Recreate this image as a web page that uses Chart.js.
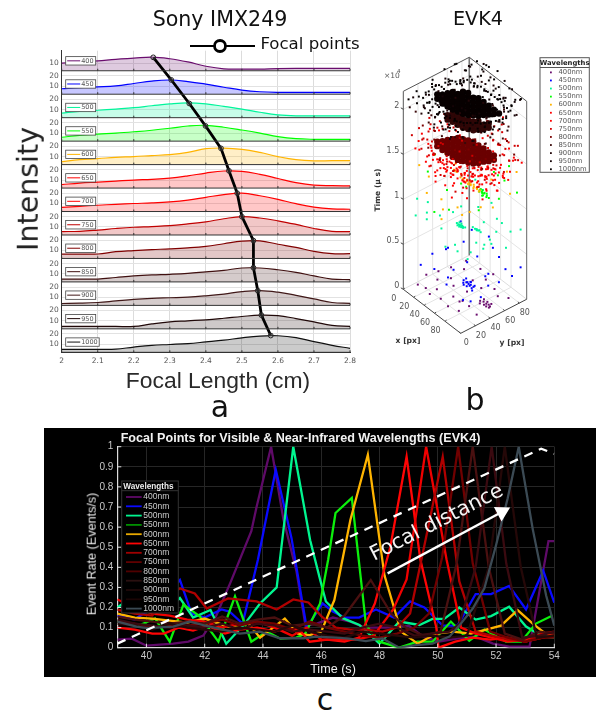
<!DOCTYPE html>
<html>
<head>
<meta charset="utf-8">
<script src="https://cdn.jsdelivr.net/npm/chart.js@4"></script>
<style>
  body { margin: 0; background: #fff; }
  #page { position: relative; width: 596px; height: 713px; overflow: hidden; }
  canvas { position: absolute; }
  #panelA { left: 40px; top: 30px; }
  #panelB { left: 370px; top: 40px; }
  #panelC { left: 44px; top: 428px; background: #000; }
  .lbl { position: absolute; white-space: nowrap; transform: translate(-50%, -50%); font-family: "DejaVu Sans"; line-height: 1; color: #111; }
  .cText { font-family: "Liberation Sans"; color: #eee; font-size: 12.6px; }
</style>
</head>
<body>
<div id="page">
  <canvas id="panelA" width="320" height="340"></canvas>
  <canvas id="panelB" width="226" height="330"></canvas>
  <canvas id="panelC" width="552" height="249"></canvas>
  <div class="lbl" style="left:220px;top:19px;font-size:20.6px">Sony IMX249</div>
  <div class="lbl" style="left:478px;top:19px;font-size:19.2px">EVK4</div>
  <div class="lbl" style="left:310px;top:44px;font-size:16.6px">Focal points</div>
  <div class="lbl" style="left:29px;top:189px;font-size:28.5px;transform:translate(-50%,-50%) rotate(-90deg);color:#222">Intensity</div>
  <div class="lbl" style="left:218px;top:380px;font-size:22.9px;font-family:'Liberation Sans';color:#2a2a2a">Focal Length (cm)</div>
  <div class="lbl" style="left:220px;top:407px;font-size:30px">a</div>
  <div class="lbl" style="left:475px;top:400px;font-size:30px">b</div>
  <div class="lbl" style="left:325px;top:700px;font-size:30px">c</div>
  <div class="lbl" style="left:300.5px;top:437.5px;font-size:12.6px;font-weight:bold;font-family:'Liberation Sans';color:#f2f2f2">Focal Points for Visible &amp; Near-Infrared Wavelengths (EVK4)</div>
  <div class="lbl cText" style="left:91.7px;top:554px;transform:translate(-50%,-50%) rotate(-90deg)">Event Rate (Events/s)</div>
  <div class="lbl cText" style="left:333px;top:669px">Time (s)</div>
</div>
<script>
const wavelengths = [400, 450, 500, 550, 600, 650, 700, 750, 800, 850, 900, 950, 1000];

// panel a: intensity against focal length
const focalLengths = [2, 2.05, 2.1, 2.15, 2.2, 2.25, 2.3, 2.35, 2.4, 2.45, 2.5, 2.55, 2.6, 2.65, 2.7, 2.75, 2.8];
const a400 = [10, 11, 12, 13.5, 14.5, 15.5, 14, 11, 7, 4.6, 4.3, 4.3, 4.8, 5, 5, 5, 5];
const a450 = [7.5, 8.7, 9.4, 10.3, 12.6, 15, 16, 14.5, 12, 9, 6.2, 4.6, 4, 4, 4, 4, 4];
const a500 = [6.6, 8.4, 9.4, 10.6, 11.9, 13.8, 15.6, 16.6, 15.6, 13.2, 10.6, 7.5, 5, 4, 4, 4, 4];
const a550 = [6, 7.8, 9, 10, 11.3, 12.8, 14.7, 16.9, 17.6, 15.7, 13, 10, 6.6, 4.6, 4, 4, 4];
const a600 = [5, 7, 8, 9.3, 10, 11, 11.9, 14, 17.7, 18.3, 17, 14, 10, 7, 5.8, 6, 6];
const a650 = [5.6, 7, 8, 9, 10, 10.7, 11.8, 14, 16.8, 18.8, 18.5, 15.5, 11.5, 7.5, 5, 4.5, 4.3];
const a700 = [6.2, 7.3, 8.3, 9.2, 10, 10.6, 11.6, 13.3, 16, 18.7, 20, 17.5, 14, 9.8, 6.5, 4.8, 4.4];
const a750 = [5.5, 5.8, 7, 8.5, 9.7, 10.4, 11.3, 13, 15, 18, 20, 18.7, 16, 12.5, 8.5, 5.8, 5.5];
const a800 = [6.5, 6.5, 6.5, 8.8, 9.9, 10.8, 11.5, 12.5, 14, 16.5, 19, 19.3, 16, 13, 9, 6.8, 6.8];
const a850 = [5, 5, 5, 6.5, 8, 9, 9.6, 10.5, 12, 13.5, 15.7, 15.7, 14, 11.5, 8, 5, 4.5];
const a900 = [4, 4.3, 5, 6.5, 8, 9, 9.6, 10.2, 11.5, 13.2, 15.5, 16.5, 15, 12, 8.5, 5, 4.2];
const a950 = [4.5, 4.5, 4.5, 4.5, 4.5, 7, 9, 10, 11, 12.5, 14.2, 15.5, 15, 12.2, 9, 5.5, 4.5];
const a1000 = [5, 5, 5, 5.2, 7.3, 9, 9.8, 10.7, 12.3, 14, 16.3, 18, 18.3, 16.5, 12.5, 9, 6];
const aRows = [a400, a450, a500, a550, a600, a650, a700, a750, a800, a850, a900, a950, a1000];
const aColors = ["#6a0d6e", "#0000ff", "#00f59b", "#00ff00", "#ffb400", "#ff0000", "#ff0000", "#c00000", "#800000", "#401010", "#401818", "#200808", "#101010"];
const focalX = [2.254, 2.304, 2.354, 2.399, 2.442, 2.464, 2.487, 2.5, 2.532, 2.532, 2.544, 2.554, 2.58];
const focalI = [15.3, 16.1, 16, 17, 18, 19, 20, 20, 19.5, 16, 16.5, 15.5, 18.5];
const aXTicks = [2, 2.1, 2.2, 2.3, 2.4, 2.5, 2.6, 2.7, 2.8];
const aYTicks = [10, 20];

// panel c: event rate traces, every wavelength sampled at its own times
const t400 = [39, 39.5, 40, 40.46, 40.92, 41.44, 41.95, 42.4, 42.9, 43.6, 43.78, 44.28, 44.7, 45.15, 45.46, 45.85, 46.4, 47, 47.5, 48.2, 49, 49.5, 50.05, 50.7, 51.3, 51.9, 52.45, 53.15, 53.8, 54];
const v400 = [0.04, 0.045, 0.01, 0.015, 0.02, 0.03, 0.06, 0.16, 0.33, 0.58, 0.7, 1, 0.64, 0.38, 0.11, 0.12, 0.15, 0.13, 0.1, 0.1, 0.11, 0.055, 0.03, 0.047, 0.055, 0.02, 0.005, 0.005, 0.53, 0.53];
const t450 = [39, 39.6, 40.2, 40.8, 41.15, 41.55, 42, 42.58, 42.85, 43.3, 43.6, 43.83, 44.44, 44.98, 45.5, 46.05, 46.4, 46.8, 47.3, 47.88, 48.5, 49.05, 49.54, 50.17, 50.68, 51.3, 51.83, 52.45, 53.03, 53.62, 54];
const v450 = [0.16, 0.14, 0.2, 0.28, 0.337, 0.17, 0.15, 0.19, 0.18, 0.12, 0.3, 0.44, 0.885, 0.545, 0.1, 0.22, 0.18, 0.15, 0.15, 0.19, 0.15, 0.23, 0.2, 0.11, 0.11, 0.267, 0.267, 0.307, 0.19, 0.383, 0.224];
const t500 = [39, 39.6, 40.2, 40.8, 41.15, 41.6, 42.2, 42.74, 43.38, 43.9, 44.47, 45.04, 45.62, 45.96, 46.16, 46.74, 47.31, 48, 48.68, 49.37, 49.82, 50.22, 50.74, 51.3, 51.83, 52.45, 53.03, 53.6, 54];
const v500 = [0.2, 0.26, 0.17, 0.2, 0.247, 0.15, 0.188, 0.02, 0.12, 0.22, 0.3, 1, 0.535, 0.34, 0.23, 0.147, 0.113, 0.02, 0.13, 0.113, 0.143, 0.143, 0.2, 0.14, 0.157, 0.204, 0.105, 0.055, 0.05];
const t550 = [39, 39.78, 40.3, 40.8, 41.27, 41.84, 42.47, 43.04, 43.6, 44.13, 44.6, 45.15, 45.45, 45.96, 46.24, 46.49, 47.05, 47.54, 48, 48.68, 49.3, 49.82, 50.45, 51.08, 51.6, 52.34, 52.86, 53.37, 53.94];
const v550 = [0.13, 0.113, 0.145, 0.03, 0.215, 0.155, 0.03, 0.255, 0.03, 0.08, 0.045, 0.05, 0.07, 0.22, 0.44, 0.67, 0.745, 0.11, 0.03, 0, 0.03, 0.03, 0.13, 0.035, 0.09, 0.03, 0.03, 0.12, 0.16];
const t600 = [39, 39.6, 40.2, 40.8, 41.4, 42, 42.8, 43.5, 43.9, 44.75, 45.2, 45.6, 46, 46.45, 47, 47.6, 48.17, 48.74, 49.31, 49.94, 50.5, 51.14, 51.66, 52.17, 52.74, 53.26, 53.7, 54];
const v600 = [0.17, 0.15, 0.145, 0.135, 0.125, 0.145, 0.105, 0.12, 0.05, 0.145, 0.07, 0.063, 0.08, 0.237, 0.635, 0.96, 0.36, 0.08, 0.02, 0.07, 0.08, 0.07, 0.09, 0.11, 0.187, 0.12, 0.07, 0.06];
const t650 = [39, 39.6, 40.2, 40.6, 41.1, 41.6, 42.1, 42.7, 43.2, 43.8, 44.4, 44.8, 45.3, 45.6, 46.2, 46.8, 47.3, 47.84, 48.37, 48.93, 49.4, 49.95, 50.03, 50.6, 51.2, 51.8, 52.4, 53, 53.6, 54];
const v650 = [0.1, 0.09, 0.07, 0.07, 0.1, 0.085, 0.11, 0.07, 0.09, 0.1, 0.08, 0.1, 0.08, 0.03, 0.04, 0.03, 0.05, 0.22, 0.5, 0.95, 0.44, 0.1, 0, 0.03, 0.05, 0.04, 0.05, 0.03, 0.05, 0.06];
const t700 = [39, 39.6, 40.2, 40.8, 41.4, 42, 42.6, 43.2, 43.8, 44.4, 45, 45.5, 46, 46.6, 47.2, 47.8, 48.47, 48.93, 49.6, 50.3, 50.8, 51.3, 51.85, 52.4, 53, 53.6, 54];
const v700 = [0.24, 0.2, 0.17, 0.16, 0.14, 0.13, 0.1, 0.12, 0.13, 0.1, 0.06, 0.1, 0.04, 0.04, 0.04, 0.06, 0.19, 0.34, 1, 0.44, 0.1, 0.07, 0.05, 0.03, 0.04, 0.07, 0.07];
const t750 = [39, 39.6, 40.2, 40.8, 41.15, 41.66, 42.07, 42.8, 43.78, 44.47, 45.04, 45.56, 46.02, 46.5, 47, 47.55, 48.1, 48.6, 49.05, 49.6, 50.17, 50.74, 51.3, 51.85, 52.45, 53.03, 53.6, 54];
const v750 = [0.19, 0.17, 0.16, 0.26, 0.295, 0.27, 0.195, 0.245, 0.23, 0.19, 0.24, 0.225, 0.155, 0.1, 0.09, 0.09, 0.08, 0.1, 0.17, 0.55, 0.95, 0.33, 0.08, 0.06, 0.04, 0.03, 0.07, 0.08];
const t800 = [39, 39.6, 40.2, 40.8, 41.4, 42, 42.6, 43.2, 43.8, 44.4, 45, 45.6, 46.2, 46.8, 47.4, 48, 48.6, 49.2, 49.7, 50.15, 50.7, 51.2, 51.8, 52.4, 53, 53.6, 54];
const v800 = [0.13, 0.12, 0.1, 0.11, 0.11, 0.12, 0.14, 0.11, 0.13, 0.12, 0.09, 0.13, 0.1, 0.08, 0.06, 0.05, 0.07, 0.1, 0.17, 0.45, 1, 0.42, 0.08, 0.05, 0.03, 0.05, 0.05];
const t850 = [39, 39.6, 40.2, 40.8, 41.4, 42, 42.6, 43.2, 43.8, 44.4, 45, 45.6, 46.2, 46.8, 47.7, 48.4, 48.9, 49.5, 50.1, 50.65, 51.2, 51.75, 52.3, 52.9, 53.5, 54];
const v850 = [0.155, 0.14, 0.13, 0.12, 0.13, 0.12, 0.155, 0.12, 0.14, 0.15, 0.11, 0.12, 0.1, 0.16, 0.337, 0.17, 0.1, 0.06, 0.08, 0.42, 1, 0.4, 0.07, 0.04, 0.08, 0.07];
const t900 = [39, 39.6, 40.2, 40.8, 41.4, 42, 42.6, 43.2, 43.8, 44.4, 45, 45.6, 46.2, 46.8, 47.4, 48, 48.6, 49.2, 49.8, 50.4, 50.75, 51.3, 51.85, 52.35, 52.9, 53.5, 54];
const v900 = [0.14, 0.12, 0.11, 0.1, 0.11, 0.1, 0.12, 0.09, 0.12, 0.11, 0.08, 0.09, 0.08, 0.07, 0.1, 0.12, 0.1, 0.06, 0.07, 0.08, 0.12, 0.4, 1, 0.42, 0.05, 0.06, 0.08];
const t950 = [39, 39.6, 40.2, 40.8, 41.4, 42, 42.6, 43.2, 43.8, 44.4, 45, 45.6, 46.2, 46.8, 47.4, 48, 48.6, 49.2, 49.8, 50.4, 51, 51.75, 52.3, 52.85, 53.4, 54];
const v950 = [0.12, 0.11, 0.09, 0.12, 0.1, 0.09, 0.08, 0.1, 0.09, 0.08, 0.11, 0.08, 0.06, 0.05, 0.08, 0.07, 0.06, 0.05, 0.06, 0.05, 0.06, 0.4, 1, 0.4, 0.05, 0.06];
const t1000 = [39, 39.66, 40.02, 40.92, 41.49, 42.06, 42.63, 43.2, 43.89, 44.58, 45.39, 45.82, 46.5, 46.96, 47.53, 48.1, 48.68, 49.25, 49.82, 50.4, 50.74, 51.2, 51.6, 52, 52.4, 52.78, 53.26, 53.72, 54];
const v1000 = [0.13, 0.105, 0.097, 0.105, 0.13, 0.108, 0.09, 0.07, 0.08, 0.047, 0.047, 0.055, 0.05, 0.045, 0.033, 0.046, 0, 0.013, 0.02, 0.055, 0.11, 0.195, 0.295, 0.51, 0.743, 1, 0.59, 0.26, 0.11];
const cTimes = [t400, t450, t500, t550, t600, t650, t700, t750, t800, t850, t900, t950, t1000];
const cRates = [v400, v450, v500, v550, v600, v650, v700, v750, v800, v850, v900, v950, v1000];
const cColors = ["#5f0a68", "#0a0aff", "#00f58f", "#0cf00c", "#ffb400", "#ff0505", "#f00000", "#b00000", "#700000", "#4a1010", "#3a0a10", "#250808", "#3b4a54"];
const cLegendColors = ["#5f0a68", "#0a0aff", "#00f58f", "#008f00", "#e8a800", "#ff0505", "#a00000", "#600000", "#500000", "#2a1010", "#200a0a", "#1a0505", "#3b4a54"];
const cXTicks = [40, 42, 44, 46, 48, 50, 52, 54];
const cYTicks = [0, 0.1, 0.2, 0.3, 0.4, 0.5, 0.6, 0.7, 0.8, 0.9, 1];
const guideTimes = [39, 53.55, 54];
const guideRates = [0.02, 0.99, 0.965];
const arrowTimes = [48.28, 52.2];
const arrowRates = [0.37, 0.675];

// panel b: events as x [px], y [px], time [x10^4 us] triples
const b400 = [96,45,.05, 92,44,.06, 98,47,.04, 100,42,.05, 94,48,.05, 90,46,.07, 102,46,.04, 97,41,.06, 88,42,.06, 104,43,.05, 93,38,.07, 99,50,.04, 12,8,.05, 25,10,.06, 33,20,.04, 40,5,.08, 52,12,.05, 60,24,.06, 72,8,.07, 85,14,.05, 70,30,.03, 45,35,.07, 20,30,.05, 30,42,.06, 12,55,.05, 28,62,.07, 48,60,.04, 60,70,.06, 72,55,.08, 80,68,.05, 95,62,.06, 105,70,.05, 38,78,.05, 55,84,.04, 18,72,.08, 5,25,.06, 8,40,.05, 90,25,.08, 105,25,.05, 78,20,.1, 62,42,.05];
const b450 = [65,42,.15, 62,41,.16, 68,43,.15, 60,44,.14, 70,40,.16, 64,46,.15, 67,38,.15, 58,40,.17, 72,44,.14, 63,36,.18, 70,47,.13, 56,45,.16, 74,40,.15, 66,44,.17, 61,38,.14, 10,30,.3, 20,45,.35, 30,60,.4, 35,15,.3, 48,25,.22, 55,18,.2, 82,35,.18, 90,52,.2, 100,60,.25, 105,75,.28, 92,75,.3, 75,78,.35, 60,80,.38, 45,85,.42, 25,75,.45, 10,70,.5, 50,65,.3, 80,55,.25, 85,20,.15, 38,40,.2, 44,55,.25, 72,65,.2, 95,38,.15, 100,20,.2, 15,10,.28, 30,35,.42, 108,85,.35];
const b500 = [43,46,.7, 41,45,.71, 45,47,.7, 44,44,.72, 42,48,.69, 46,45,.7, 40,47,.72, 44,49,.68, 47,47,.69, 39,44,.72, 45,43,.71, 48,46,.7, 41,49,.7, 43,42,.72, 47,50,.68, 63,55,.7, 65,56,.7, 61,54,.71, 66,53,.72, 60,57,.69, 64,58,.69, 68,57,.69, 58,53,.72, 12,5,.85, 20,15,.8, 30,8,.95, 8,25,.9, 5,12,.98, 18,35,.75, 35,25,.72, 30,45,.8, 25,60,.78, 45,70,.82, 60,78,.9, 75,82,.72, 95,80,.72, 108,85,.78, 100,70,.6, 85,60,.62, 78,55,.6, 90,45,.65, 72,40,.55, 80,30,.55, 60,30,.55, 50,20,.6, 48,35,.55, 55,60,.5, 68,70,.55, 40,80,.95, 25,80,1, 82,70,.85, 70,60,.8, 92,62,.78];
const b550 = [69,58,1.15, 72,59,1.14, 66,57,1.16, 74,56,1.14, 70,61,1.13, 64,60,1.15, 76,60,1.13, 68,55,1.16, 73,62,1.13, 62,56,1.17, 78,58,1.13, 71,57,1.15, 66,61,1.14, 75,54,1.15, 80,60,1.12, 60,59,1.16, 15,20,1.3, 8,35,1.4, 25,40,1.05, 30,60,1.4, 40,75,1.35, 55,85,1.2, 70,80,1.25, 90,75,1.3, 105,82,1.2, 100,60,1.2, 88,40,1.1, 50,25,1, 35,15,.95, 42,55,1.1, 85,85,1.4, 60,35,1.3];
const b600 = [55,52,1.2, 50,50,1.22, 60,53,1.19, 45,49,1.23, 65,54,1.18, 52,53,1.21, 58,50,1.21, 48,52,1.22, 62,51,1.19, 68,56,1.17, 42,47,1.24, 55,49,1.22, 57,55,1.19, 63,55,1.18, 47,47,1.24, 53,50,1.2, 70,53,1.18, 40,50,1.25, 36,46,1.28, 33,44,1.3, 38,42,1.32, 10,25,1.2, 5,15,1.35, 20,15,1.1, 28,30,1, 38,25,.95, 45,18,.9, 55,40,.9, 60,30,1.05, 70,40,1, 85,45,1.1, 95,55,1.1, 108,70,1.25, 100,85,1.4, 85,82,1.35, 65,80,1.4, 50,78,1.4, 30,70,1.35, 25,52,1.3, 15,45,1.4, 78,65,1.3];
const b650 = [30,30,1.42, 40,35,1.45, 50,30,1.38, 60,40,1.4, 70,45,1.38, 80,50,1.42, 45,50,1.45, 55,55,1.42, 65,60,1.4, 75,62,1.45, 35,45,1.48, 25,40,1.5, 90,60,1.42, 85,40,1.35, 72,30,1.4, 58,22,1.42, 40,20,1.45, 28,18,1.5, 15,25,1.55, 48,42,1.4, 62,50,1.42, 52,38,1.44, 68,38,1.36, 78,58,1.36, 42,28,1.4, 56,46,1.38, 64,34,1.36, 74,52,1.38, 38,38,1.42, 50,58,1.38, 82,68,1.42, 92,72,1.4, 100,58,1.3, 33,55,1.5, 46,65,1.5, 60,70,1.45, 36,30,1.38, 44,40,1.38, 52,46,1.34, 60,52,1.34, 68,58,1.34, 76,60,1.32, 84,66,1.32, 92,66,1.32, 46,34,1.34, 54,44,1.3, 62,46,1.3, 70,52,1.3, 78,52,1.3, 86,52,1.28, 40,42,1.42, 48,54,1.38, 58,60,1.34, 66,66,1.36, 30,36,1.44, 74,68,1.38, 88,74,1.35, 96,76,1.33];
const b700 = [8,12,1.65, 15,8,1.6, 25,12,1.55, 35,8,1.5, 45,12,1.48, 55,15,1.45, 70,18,1.42, 85,25,1.4, 95,35,1.42, 105,50,1.42, 108,70,1.5, 100,80,1.55, 85,85,1.6, 70,80,1.6, 55,82,1.65, 40,75,1.7, 25,65,1.7, 12,50,1.7, 5,30,1.7, 18,35,1.6, 30,48,1.6, 42,60,1.55, 58,68,1.55, 75,72,1.5, 90,70,1.5, 20,22,1.55, 32,25,1.5, 44,30,1.5, 60,30,1.48, 78,38,1.45, 90,48,1.45, 52,48,1.5, 66,55,1.5, 38,42,1.55, 80,58,1.48, 22,55,1.65, 10,6,1.6, 16,20,1.62, 20,30,1.55, 28,8,1.52, 34,28,1.48, 38,14,1.42, 46,24,1.42, 50,6,1.4, 54,34,1.42, 58,14,1.36, 62,22,1.34, 66,44,1.42, 70,34,1.36, 74,12,1.3, 78,24,1.32, 82,42,1.38, 86,34,1.34, 90,22,1.32, 94,56,1.4, 98,44,1.35, 102,66,1.42, 104,34,1.32, 40,50,1.55, 28,56,1.62, 48,74,1.6, 66,76,1.52, 82,78,1.55, 96,84,1.55, 106,88,1.52, 110,50,1.38, 36,16,1.36, 12,38,1.68, 6,18,1.7];
const b750 = [3,6,1.72, 12,16,1.68, 22,6,1.65, 32,16,1.6, 42,5,1.55, 52,20,1.55, 62,10,1.5, 75,25,1.5, 88,18,1.45, 100,40,1.5, 110,60,1.55, 104,72,1.6, 92,88,1.65, 78,76,1.65, 62,86,1.7, 48,72,1.72, 32,78,1.78, 18,60,1.75, 8,42,1.75, 28,32,1.62, 38,52,1.62, 50,40,1.6, 64,48,1.58, 76,50,1.55, 88,62,1.58, 70,66,1.62, 56,60,1.62, 44,26,1.58, 84,34,1.52, 96,55,1.55, 24,44,1.7, 36,66,1.68, 6,14,1.78, 12,26,1.8, 18,10,1.72, 22,36,1.75, 26,18,1.7, 30,58,1.82, 34,8,1.62, 38,22,1.72, 42,70,1.85, 46,14,1.6, 48,52,1.78, 52,82,1.85, 56,26,1.6, 60,6,1.52, 64,68,1.8, 68,18,1.55, 72,84,1.82, 76,36,1.62, 80,66,1.75, 84,10,1.42, 88,78,1.75, 92,28,1.5, 96,72,1.7, 100,52,1.62, 104,84,1.72, 108,44,1.48, 110,76,1.62, 14,44,1.85, 4,30,1.82, 24,70,1.88, 44,84,1.9, 66,90,1.85, 82,44,1.55, 56,36,1.8, 36,44,1.82];
const b800 = [5,20,1.78, 15,30,1.72, 25,22,1.7, 35,35,1.7, 45,45,1.72, 55,30,1.68, 65,42,1.68, 75,40,1.62, 85,52,1.62, 95,65,1.65, 105,78,1.65, 88,80,1.72, 72,60,1.7, 60,55,1.72, 48,62,1.78, 35,58,1.78, 22,48,1.78, 40,85,1.85, 55,75,1.82, 70,88,1.8, 85,70,1.72, 30,10,1.68, 50,12,1.62, 68,28,1.6, 92,42,1.58, 15,60,1.82];
const b850 = [5,10,1.98, 15,25,1.92, 28,12,1.95, 38,24,1.9, 50,15,1.88, 62,25,1.88, 75,30,1.85, 85,35,1.85, 95,45,1.87, 105,62,1.9, 98,75,1.95, 82,72,1.95, 68,65,1.95, 55,58,1.95, 42,50,1.98, 30,42,1.95, 18,45,2, 45,72,2.02, 60,80,2, 75,85,2, 28,68,2.05, 12,60,2.05, 90,58,1.9, 72,45,1.9, 58,38,1.92, 44,30,1.92];
const b900 = [3,3,2.05, 10,18,2.02, 22,6,2.05, 32,18,2, 44,8,1.98, 55,20,1.98, 68,15,1.95, 80,24,1.95, 92,30,1.95, 104,45,1.98, 110,65,2, 100,85,2.05, 85,78,2.05, 70,88,2.1, 55,70,2.05, 40,60,2.05, 25,52,2.05, 8,40,2.1, 15,70,2.15, 35,82,2.15, 50,88,2.15, 62,50,2.02, 76,60,2.02, 90,68,2, 48,42,2.02, 34,34,2.02];
const b950 = [0,10,2.12, 6,28,2.1, 18,12,2.1, 26,26,2.08, 38,14,2.05, 48,28,2.05, 60,10,2.02, 70,32,2.02, 84,20,2, 96,38,2.03, 108,55,2.05, 106,78,2.1, 92,88,2.15, 78,82,2.15, 64,72,2.12, 48,78,2.2, 36,70,2.15, 20,62,2.15, 5,52,2.18, 30,88,2.22, 12,82,2.22, 88,50,2.05, 72,52,2.08, 56,44,2.08, 40,38,2.08, 22,36,2.12, 10,35,2.2, 14,18,2.18, 20,48,2.2, 26,8,2.12, 30,38,2.28, 34,22,2.04, 38,52,2.25, 42,10,2, 44,70,2.3, 50,32,1.98, 52,60,2.3, 56,16,1.98, 58,78,2.32, 62,34,2.02, 66,66,2.25, 70,12,1.95, 74,74,2.28, 76,40,2.02, 82,30,2.02, 84,62,2.2, 88,78,2.22, 92,46,2.05, 96,70,2.18, 98,24,2, 104,50,2.08, 106,66,2.14, 18,76,2.28, 24,66,2.3, 8,58,2.25, 36,84,2.35, 72,88,2.3, 84,90,2.25, 100,90,2.2, 46,46,2.05, 64,52,2.02, 28,14,2.08];
const b1000 = [2,2,2.14, 8,22,2.16, 16,4,2.15, 24,16,2.15, 36,6,2.12, 46,20,2.12, 58,8,2.1, 66,22,2.1, 78,14,2.08, 90,26,2.1, 100,40,2.1, 110,58,2.12, 102,72,2.15, 96,86,2.2, 80,76,2.18, 66,84,2.22, 52,80,2.25, 42,66,2.2, 28,58,2.2, 14,50,2.22, 4,66,2.28, 20,86,2.3, 38,90,2.3, 60,60,2.18, 78,62,2.15, 92,56,2.12, 34,46,2.15, 48,52,2.16, 4,12,2.2, 12,28,2.25, 16,40,2.12, 22,24,2.25, 28,34,2.05, 32,10,2.2, 36,28,2.3, 40,48,2.32, 44,16,2.24, 46,58,2.36, 50,8,2.16, 54,26,2.3, 56,66,2.38, 60,18,2.22, 64,38,2.34, 68,76,2.35, 70,22,2.22, 74,44,2.32, 76,8,2.12, 80,34,2.28, 82,50,2.32, 86,12,2.1, 88,40,2.25, 90,82,2.32, 94,62,2.3, 98,32,2.2, 102,56,2.24, 108,72,2.25, 110,84,2.28, 104,28,2.12, 58,88,2.35, 44,82,2.38, 26,74,2.34, 10,64,2.32, 32,62,2.35, 2,36,2.22, 14,8,2.2, 6,50,2.3, 78,68,2.3, 50,72,2.4];
// extra events thickening the clouds around their dense middle
const bDarkHalo = [14,22,2.2, 18,24,2.12, 18,24,2.26, 22,26,2.08, 22,26,2.28, 26,28,2.05, 26,28,2.3, 30,26,2.02, 30,34,2.32, 34,30,2, 34,36,2.34, 38,30,1.99, 38,38,2.36, 42,32,1.98, 42,40,2.36, 46,36,1.97, 46,44,2.38, 50,36,1.96, 50,46,2.38, 54,38,1.96, 54,48,2.4, 58,40,1.96, 58,50,2.38, 62,42,1.97, 62,52,2.38, 66,44,1.98, 66,54,2.36, 70,48,1.98, 70,56,2.36, 74,48,2, 74,58,2.34, 78,50,2, 78,60,2.32, 82,52,2.02, 82,62,2.3, 86,56,2.02, 86,64,2.28, 90,56,2.05, 90,66,2.26, 94,60,2.06, 94,68,2.24, 98,62,2.08, 98,68,2.22, 102,64,2.1, 102,70,2.2, 106,66,2.12, 106,72,2.18, 20,36,2.22, 28,42,2.3, 36,46,2.28, 44,50,2.32, 52,56,2.36, 60,58,2.3, 68,62,2.28, 76,66,2.25, 84,72,2.26, 92,74,2.22, 100,78,2.18, 14,14,2.16, 22,14,2.14, 30,16,2.12, 38,18,2.06, 46,22,2.04, 54,22,2, 62,26,2, 70,30,1.98, 78,34,2, 86,40,2.02, 94,44,2, 102,50,2.04];
const bBrightHalo = [24,22,1.52, 28,24,1.48, 32,26,1.46, 36,28,1.44, 40,30,1.42, 44,32,1.42, 48,34,1.4, 52,36,1.4, 56,38,1.38, 60,40,1.38, 64,42,1.38, 68,44,1.38, 72,46,1.4, 76,48,1.4, 80,50,1.42, 84,52,1.42, 88,54,1.44, 92,56,1.46, 96,58,1.48, 100,60,1.5, 30,36,1.5, 38,40,1.46, 46,44,1.44, 54,48,1.42, 62,52,1.42, 70,56,1.42, 78,60,1.44, 86,64,1.46, 94,66,1.5, 28,18,1.56, 36,20,1.5, 44,22,1.46, 52,26,1.42, 60,30,1.38, 68,34,1.36, 76,38,1.38, 84,44,1.36, 92,48,1.4, 100,48,1.42, 108,60,1.48];
const bRedHalo = [14,20,1.66, 16,28,1.74, 18,22,1.6, 20,30,1.78, 22,30,1.58, 26,22,1.54, 30,38,1.8, 34,24,1.52, 38,40,1.82, 42,28,1.5, 46,44,1.84, 50,32,1.48, 54,48,1.84, 58,36,1.48, 62,52,1.84, 66,40,1.48, 70,56,1.84, 74,44,1.5, 78,60,1.82, 82,48,1.5, 86,62,1.8, 90,52,1.54, 94,66,1.76, 98,58,1.58, 102,66,1.68, 106,70,1.62, 24,48,1.82, 34,54,1.86, 44,60,1.88, 54,64,1.88, 64,70,1.88, 74,72,1.86, 84,76,1.82, 94,78,1.74, 8,26,1.7, 110,80,1.6];
// the densest parts of the clouds, too many events to tell apart
const bRedCore = [24,27,1.6, 24,27,1.65, 30,30,1.57, 30,30,1.62, 30,30,1.67, 36,33,1.55, 36,33,1.6, 36,33,1.65, 36,33,1.7, 42,36,1.52, 42,36,1.57, 42,36,1.62, 42,36,1.67, 42,36,1.72, 48,39,1.5, 48,39,1.55, 48,39,1.6, 48,39,1.65, 48,39,1.7, 48,39,1.75, 54,42,1.5, 54,42,1.55, 54,42,1.6, 54,42,1.65, 54,42,1.7, 54,42,1.75, 60,45,1.5, 60,45,1.55, 60,45,1.6, 60,45,1.65, 60,45,1.7, 60,45,1.75, 66,48,1.5, 66,48,1.55, 66,48,1.6, 66,48,1.65, 66,48,1.7, 66,48,1.75, 72,51,1.52, 72,51,1.57, 72,51,1.62, 72,51,1.67, 72,51,1.72, 78,54,1.55, 78,54,1.6, 78,54,1.65, 78,54,1.7, 84,57,1.57, 84,57,1.62, 84,57,1.67, 90,60,1.6, 90,60,1.65];
const bBrownCore = [36,33,1.93, 36,33,1.98, 42,36,1.92, 42,36,1.97, 42,36,2.02, 48,39,1.9, 48,39,1.95, 48,39,2, 54,42,1.88, 54,42,1.93, 54,42,1.98, 60,45,1.88, 60,45,1.93, 60,45,1.98, 66,48,1.88, 66,48,1.93, 66,48,1.98, 72,51,1.9, 72,51,1.95, 72,51,2, 78,54,1.92, 78,54,1.97, 84,57,1.95, 84,57,2];
const bBlackCore = [24,27,2.14, 24,27,2.19, 30,30,2.1, 30,30,2.15, 30,30,2.2, 36,33,2.08, 36,33,2.13, 36,33,2.18, 36,33,2.23, 42,36,2.06, 42,36,2.11, 42,36,2.16, 42,36,2.21, 42,36,2.26, 48,39,2.05, 48,39,2.1, 48,39,2.15, 48,39,2.2, 48,39,2.25, 54,42,2.04, 54,42,2.09, 54,42,2.14, 54,42,2.19, 54,42,2.24, 54,42,2.29, 60,45,2.04, 60,45,2.09, 60,45,2.14, 60,45,2.19, 60,45,2.24, 60,45,2.29, 66,48,2.05, 66,48,2.1, 66,48,2.15, 66,48,2.2, 66,48,2.25, 72,51,2.06, 72,51,2.11, 72,51,2.16, 72,51,2.21, 72,51,2.26, 78,54,2.08, 78,54,2.13, 78,54,2.18, 78,54,2.23, 84,57,2.1, 84,57,2.15, 84,57,2.2, 90,60,2.12, 90,60,2.17, 96,63,2.14];
const bClouds = [b400, b450, b500, b550, b600, b650, b700.concat(bBrightHalo), b750.concat(bRedHalo), b800, b850, b900, b950, b1000.concat(bDarkHalo)];
const bColors = ["#6a0d6e", "#0000ff", "#00f59b", "#00ff00", "#ffb400", "#ff0000", "#ff0000", "#d00000", "#7a0000", "#3a0808", "#220608", "#150306", "#050000"];
const bXTicks = [0, 20, 40, 60, 80];
const bYTicks = [0, 20, 40, 60, 80];
const bTTicks = [0, 0.5, 1, 1.5, 2];
const bXMax = 110, bYMax = 90, bTMax = 2.2;

const tickFont = "'DejaVu Sans'";

// ---- panel a ----
const rowWeights = wavelengths.map((w, i) => (i === 0 ? 20 : 23.4));
const rowRanges = wavelengths.map((w, i) => (i === 0 ? [2.8, 21.5] : [2.2, 25]));
const rowScales = {};
// a stack of axes fills from the bottom, so the last row goes in first
for (let i = wavelengths.length - 1; i >= 0; i--) {
    rowScales["r" + i] = {
        type: "linear",
        position: "left",
        stack: "rows",
        stackWeight: rowWeights[i],
        min: rowRanges[i][0],
        max: rowRanges[i][1],
        afterBuildTicks: (s) => { s.ticks = aYTicks.map((v) => ({ value: v })); },
        afterFit: (s) => { s.width = 21.7; },
        ticks: { color: "#555", font: { family: tickFont, size: 7.5 }, padding: 3 },
        grid: { color: "#e2e2e2", tickLength: 0 },
        border: { color: "#333" },
    };
}

// focal points sit on a hidden axis spanning all the rows
let rowTop = 0;
const focalY = focalI.map((v, i) => {
    const r = rowRanges[i];
    const y = rowTop + ((r[1] - v) / (r[1] - r[0])) * rowWeights[i];
    rowTop += rowWeights[i];
    return y;
});

const aDatasets = aRows.map((row, i) => ({
    label: wavelengths[i] + "",
    data: row.map((v, j) => ({ x: focalLengths[j], y: v })),
    yAxisID: "r" + i,
    borderColor: aColors[i],
    backgroundColor: aColors[i] + "38",
    borderWidth: 1.2,
    fill: "start",
    tension: 0.4,
    pointRadius: 0,
    order: 5,
}));
aDatasets.push({
    label: "Focal points",
    data: focalX.map((x, i) => ({ x: x, y: focalY[i] })),
    yAxisID: "focal",
    borderColor: "#000",
    borderWidth: 2.8,
    tension: 0,
    pointRadius: 2.4,
    pointBorderWidth: 1,
    pointBorderColor: "#222",
    pointBackgroundColor: "rgba(255,255,255,0.15)",
    clip: false,
    order: 1,
});

new Chart(document.getElementById("panelA"), {
    type: "line",
    data: { datasets: aDatasets },
    options: {
        responsive: false,
        animation: false,
        events: [],
        layout: { padding: { top: 20.7, right: 5.7, bottom: 0, left: 0 } },
        plugins: { legend: { display: false } },
        scales: Object.assign({
            x: {
                type: "linear",
                min: 2,
                max: 2.8,
                afterBuildTicks: (s) => { s.ticks = aXTicks.map((v) => ({ value: v })); },
                afterFit: (s) => { s.height = 17.7; },
                ticks: { color: "#555", font: { family: tickFont, size: 7.5 }, maxRotation: 0, padding: 4, callback: (v) => v + "" },
                grid: { color: "#dcdcdc", tickLength: 0 },
                border: { color: "#333" },
            },
            focal: { type: "linear", display: false, reverse: true, min: 0, max: rowTop },
        }, rowScales),
    },
    plugins: [{
        id: "rowDecor",
        afterDatasetsDraw(chart) {
            const ctx = chart.ctx;
            const xs = chart.scales.x;
            ctx.save();
            wavelengths.forEach((w, i) => {
                const ys = chart.scales["r" + i];
                ctx.strokeStyle = "#333";
                ctx.lineWidth = 1;
                ctx.beginPath();
                ctx.moveTo(xs.left, ys.bottom);
                ctx.lineTo(xs.right, ys.bottom);
                aXTicks.forEach((v) => {
                    const px = xs.getPixelForValue(v);
                    ctx.moveTo(px, ys.bottom);
                    ctx.lineTo(px, ys.bottom - 2);
                });
                ctx.stroke();
                // small row legend
                const cy = ys.getPixelForValue(10) - 2.2;
                const bw = w === 1000 ? 33.5 : 30;
                ctx.fillStyle = "#fff";
                ctx.strokeStyle = "#444";
                ctx.lineWidth = 0.8;
                ctx.fillRect(xs.left + 4, cy - 4.2, bw, 8.4);
                ctx.strokeRect(xs.left + 4, cy - 4.2, bw, 8.4);
                ctx.strokeStyle = aColors[i];
                ctx.lineWidth = 1;
                ctx.beginPath();
                ctx.moveTo(xs.left + 5.5, cy);
                ctx.lineTo(xs.left + 18.5, cy);
                ctx.stroke();
                ctx.fillStyle = "#555";
                ctx.font = "6.5px " + tickFont;
                ctx.textBaseline = "middle";
                ctx.fillText(w + "", xs.left + 19.5, cy + 0.3);
            });
            // focal points legend key
            ctx.strokeStyle = "#000";
            ctx.lineWidth = 2.2;
            ctx.beginPath();
            ctx.moveTo(150, 16);
            ctx.lineTo(215, 16);
            ctx.stroke();
            ctx.lineWidth = 2.8;
            ctx.fillStyle = "#fff";
            ctx.beginPath();
            ctx.arc(180, 16, 5.5, 0, Math.PI * 2);
            ctx.fill();
            ctx.stroke();
            ctx.restore();
        },
    }],
});

// ---- panel b ----
function project(x, y, t) {
    return { x: 33.3 + 0.522 * x + 0.733 * y, y: 249.3 + 0.4 * x - 0.378 * y - 90 * t };
}
function cloudPoints(list) {
    const pts = [];
    for (let i = 0; i < list.length; i += 3) pts.push(project(list[i], list[i + 1], list[i + 2]));
    return pts;
}
const bDatasets = bClouds.map((list, i) => ({
    label: wavelengths[i] + "nm",
    data: cloudPoints(list),
    backgroundColor: bColors[i],
    borderWidth: 0,
    pointStyle: "rect",
    pointRadius: 1.4,
    order: 30 - i,
}));
[[bRedCore, "#6a0000", 3.2, 23], [bBrownCore, "#2e0606", 3.2, 21], [bBlackCore, "#070000", 3.2, 20]].forEach((c) => {
    bDatasets.push({ data: cloudPoints(c[0]), backgroundColor: c[1], borderWidth: 0, pointRadius: c[2], order: c[3] });
});

new Chart(document.getElementById("panelB"), {
    type: "scatter",
    data: { datasets: bDatasets },
    options: {
        responsive: false,
        animation: false,
        events: [],
        layout: { padding: 0 },
        plugins: { legend: { display: false } },
        scales: {
            x: { display: false, min: 0, max: 226 },
            y: { display: false, min: 0, max: 330, reverse: true },
        },
    },
    plugins: [{
        id: "box3d",
        beforeDatasetsDraw(chart) {
            const ctx = chart.ctx;
            const line = (a, b, color, w) => {
                ctx.strokeStyle = color;
                ctx.lineWidth = w;
                ctx.beginPath();
                ctx.moveTo(a.x, a.y);
                ctx.lineTo(b.x, b.y);
                ctx.stroke();
            };
            ctx.save();
            const grid = "#e4e4e4";
            bXTicks.slice(1).forEach((v) => {
                line(project(v, 0, 0), project(v, bYMax, 0), grid, 1);
                line(project(v, bYMax, 0), project(v, bYMax, bTMax), grid, 1);
            });
            bYTicks.slice(1).forEach((v) => {
                line(project(0, v, 0), project(bXMax, v, 0), grid, 1);
                line(project(0, v, 0), project(0, v, bTMax), grid, 1);
            });
            bTTicks.slice(1).forEach((v) => {
                line(project(0, 0, v), project(0, bYMax, v), grid, 1);
                line(project(0, bYMax, v), project(bXMax, bYMax, v), grid, 1);
            });
            line(project(0, 0, 0), project(0, bYMax, 0), "#ddd", 1);
            line(project(0, bYMax, 0), project(bXMax, bYMax, 0), "#ddd", 1);
            line(project(0, bYMax, 0), project(0, bYMax, bTMax), "#777", 1.6);
            line(project(0, 0, 0), project(0, 0, bTMax), "#555", 1);
            line(project(bXMax, bYMax, 0), project(bXMax, bYMax, bTMax), "#666", 1);
            line(project(0, 0, bTMax), project(0, bYMax, bTMax), "#555", 1);
            line(project(0, bYMax, bTMax), project(bXMax, bYMax, bTMax), "#555", 1);
            line(project(0, 0, 0), project(bXMax, 0, 0), "#444", 1);
            line(project(bXMax, 0, 0), project(bXMax, bYMax, 0), "#444", 1);

            ctx.fillStyle = "#555";
            ctx.font = "8px " + tickFont;
            ctx.textAlign = "center";
            ctx.textBaseline = "middle";
            bXTicks.forEach((v) => {
                const p = project(v, 0, 0);
                line(p, { x: p.x + 1.5, y: p.y - 1.2 }, "#444", 1);
                ctx.fillText(v + "", p.x - 9.5, p.y + 10);
            });
            bYTicks.forEach((v) => {
                const p = project(bXMax, v, 0);
                line(p, { x: p.x - 1.5, y: p.y - 1.2 }, "#444", 1);
                ctx.fillText(v + "", p.x + 5.5, p.y + 10);
            });
            ctx.textAlign = "right";
            bTTicks.forEach((v) => {
                const p = project(0, 0, v);
                line(p, { x: p.x - 2.5, y: p.y - 1.5 }, "#444", 1);
                ctx.fillText(v + "", p.x - 4, p.y - 3);
            });
            ctx.font = "bold 7.6px " + tickFont;
            ctx.fillStyle = "#333";
            ctx.textAlign = "center";
            ctx.fillText("x [px]", 38, 301.5);
            ctx.fillText("y [px]", 142, 303);
            ctx.save();
            ctx.translate(8, 150);
            ctx.rotate(-Math.PI / 2);
            ctx.fillText("Time (\u03bc s)", 0, 0);
            ctx.restore();
            ctx.font = "7.5px " + tickFont;
            ctx.fillStyle = "#555";
            ctx.textAlign = "left";
            ctx.fillText("\u00d710", 14, 36);
            ctx.font = "5.5px " + tickFont;
            ctx.fillText("4", 27, 32);
            ctx.restore();
        },
        afterDatasetsDraw(chart) {
            // wavelength legend
            const ctx = chart.ctx;
            ctx.save();
            ctx.fillStyle = "#fff";
            ctx.strokeStyle = "#555";
            ctx.lineWidth = 1;
            ctx.fillRect(170, 17.7, 49.3, 114.6);
            ctx.strokeRect(170, 17.7, 49.3, 114.6);
            ctx.beginPath();
            ctx.moveTo(170, 27.5);
            ctx.lineTo(219.3, 27.5);
            ctx.stroke();
            ctx.fillStyle = "#222";
            ctx.font = "bold 6.8px " + tickFont;
            ctx.textAlign = "center";
            ctx.textBaseline = "middle";
            ctx.fillText("Wavelengths", 194.6, 23);
            ctx.textAlign = "left";
            ctx.font = "6.8px " + tickFont;
            wavelengths.forEach((w, i) => {
                const cy = 32.4 + i * 8.07;
                ctx.fillStyle = bColors[i];
                ctx.fillRect(180, cy - 0.9, 1.8, 1.8);
                ctx.fillStyle = "#555";
                ctx.fillText(w + "nm", 188.5, cy);
            });
            ctx.restore();
        },
    }],
});

// ---- panel c ----
const cDatasets = cRates.map((rates, i) => ({
    label: wavelengths[i] + "nm",
    data: rates.map((v, j) => ({ x: cTimes[i][j], y: v })),
    borderColor: cColors[i],
    borderWidth: 2.3,
    tension: 0,
    pointRadius: 0,
    borderJoinStyle: "miter",
    order: 20 - i,
}));
cDatasets.push({
    data: guideTimes.map((t, i) => ({ x: t, y: guideRates[i] })),
    borderColor: "#fff",
    borderWidth: 2.3,
    borderDash: [9, 7],
    pointRadius: 0,
    tension: 0,
    order: 2,
});
cDatasets.push({
    data: arrowTimes.map((t, i) => ({ x: t, y: arrowRates[i] })),
    borderColor: "#fff",
    backgroundColor: "#fff",
    borderWidth: 2.4,
    tension: 0,
    pointStyle: "triangle",
    pointRadius: [0, 7],
    pointRotation: 62,
    order: 1,
});

new Chart(document.getElementById("panelC"), {
    type: "line",
    data: { datasets: cDatasets },
    options: {
        responsive: false,
        animation: false,
        events: [],
        layout: { padding: { top: 18.7, right: 41.7, bottom: 0, left: 0 } },
        plugins: { legend: { display: false } },
        scales: {
            x: {
                type: "linear",
                min: 39,
                max: 54,
                afterBuildTicks: (s) => { s.ticks = cXTicks.map((v) => ({ value: v })); },
                afterFit: (s) => { s.height = 29.3; },
                ticks: { color: "#c8c8c8", font: { family: "'Liberation Sans'", size: 10 }, maxRotation: 0, padding: 3, callback: (v) => v + "" },
                grid: { color: "#262626", tickLength: 0 },
                border: { color: "#ddd", width: 1.2 },
            },
            y: {
                min: 0,
                max: 1,
                afterBuildTicks: (s) => { s.ticks = cYTicks.map((v) => ({ value: v })); },
                afterFit: (s) => { s.width = 73.3; },
                ticks: { color: "#c8c8c8", font: { family: "'Liberation Sans'", size: 10 }, padding: 4, callback: (v) => v + "" },
                grid: { color: "#262626", tickLength: 0 },
                border: { color: "#ddd", width: 1.2 },
            },
        },
    },
    plugins: [{
        id: "panelCDecor",
        afterDatasetsDraw(chart) {
            const ctx = chart.ctx;
            const xs = chart.scales.x;
            const ys = chart.scales.y;
            ctx.save();
            ctx.strokeStyle = "#ddd";
            ctx.lineWidth = 1;
            ctx.beginPath();
            cXTicks.forEach((v) => {
                const p = xs.getPixelForValue(v);
                ctx.moveTo(p, ys.bottom);
                ctx.lineTo(p, ys.bottom - 4);
            });
            cYTicks.forEach((v) => {
                const p = ys.getPixelForValue(v);
                ctx.moveTo(xs.left, p);
                ctx.lineTo(xs.left + 4, p);
            });
            ctx.stroke();

            // wavelength legend sits over the traces
            ctx.fillStyle = "#000";
            ctx.strokeStyle = "#333";
            ctx.fillRect(77.7, 53, 56.6, 132);
            ctx.strokeRect(77.7, 53, 56.6, 132);
            ctx.beginPath();
            ctx.moveTo(77.7, 62.7);
            ctx.lineTo(134.3, 62.7);
            ctx.stroke();
            ctx.fillStyle = "#eee";
            ctx.font = "bold 8.2px 'Liberation Sans'";
            ctx.textBaseline = "middle";
            ctx.fillText("Wavelengths", 79.3, 58.5);
            ctx.font = "8.5px 'Liberation Sans'";
            wavelengths.forEach((w, i) => {
                const cy = 69 + i * 9.3;
                ctx.strokeStyle = cLegendColors[i];
                ctx.lineWidth = 1.8;
                ctx.beginPath();
                ctx.moveTo(82, cy);
                ctx.lineTo(97.7, cy);
                ctx.stroke();
                ctx.fillStyle = "#ccc";
                ctx.fillText(w + "nm", 99.3, cy);
            });

            // annotation along the arrow
            ctx.translate(xs.getPixelForValue(49.97), ys.getPixelForValue(0.62));
            ctx.rotate((-27 * Math.PI) / 180);
            ctx.fillStyle = "#f4f4f4";
            ctx.font = "20.5px 'DejaVu Sans'";
            ctx.textAlign = "center";
            ctx.fillText("Focal distance", 0, 0);
            ctx.restore();
        },
    }],
});
</script>
</body>
</html>
